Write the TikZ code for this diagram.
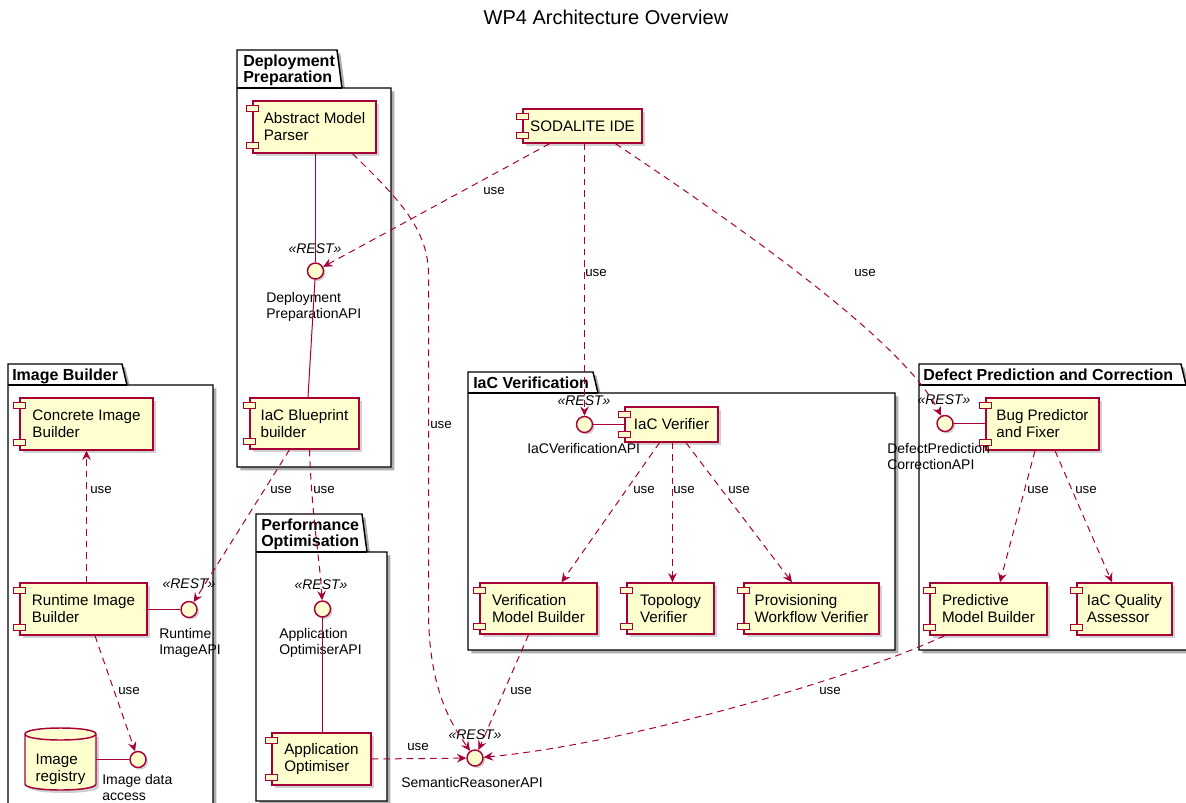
\documentclass[tikz,border=0pt]{standalone}
\usepackage{fontspec}
\setmainfont{Liberation Sans}
\usetikzlibrary{arrows.meta,calc,shadows}
\definecolor{umlred}{HTML}{A80036}
\definecolor{umlfill}{HTML}{FEFECE}

% package outline: left, tab top, tab right, body top, right, bottom
\newcommand\pkgframe[6]{%
  \draw[pkg] (#1,#2) -- (#3,#2) -- ({#3+5},#4) -- (#5,#4) -- (#5,#6) -- (#1,#6) -- cycle;
  \draw[pkgedge] (#1,#4) -- ({#3+5},#4);
}

\tikzset{
  txt/.style={font=\fontsize{10.5}{12}\selectfont, text=black},
  comp/.style 2 args={font=\fontsize{11.4}{12.8}\selectfont, text=black,
    draw=umlred, fill=umlfill, line width=1.1pt,
    minimum width=#1*0.75pt, minimum height=#2*0.75pt, inner sep=0pt, align=left,
    drop shadow={shadow xshift=2pt, shadow yshift=-2pt, opacity=0.3, fill=black!60}},
  compbar/.style={draw=umlred, fill=umlfill, line width=1.1pt},
  iface/.style={circle, draw=umlred, fill=umlfill, line width=1.1pt,
    minimum size=12pt, inner sep=0pt,
    drop shadow={shadow xshift=1.5pt, shadow yshift=-1.5pt, opacity=0.3, fill=black!60}},
  stereo/.style={font=\fontsize{10.5}{12}\selectfont\itshape, inner sep=0pt},
  ifname/.style={txt, align=left, inner sep=0pt, anchor=north west},
  pkg/.style={draw=black, line width=1.1pt, fill=white,
    drop shadow={shadow xshift=2.5pt, shadow yshift=-2.5pt, opacity=0.45, fill=black!70}},
  pkgedge/.style={draw=black, line width=1.1pt},
  pkgname/.style={font=\fontsize{12}{11.4}\selectfont\bfseries, align=left,
    inner sep=0pt, anchor=north west},
  wire/.style={draw=umlred, line width=0.75pt},
  use/.style={draw=umlred, line width=0.75pt, dash pattern=on 5pt off 3.75pt,
    -{Stealth[length=7pt,width=6.5pt,inset=2.5pt]}},
  uselbl/.style={font=\fontsize{10}{11}\selectfont, inner sep=0pt},
}

\begin{document}
\begin{tikzpicture}[x=0.75pt, y=-0.75pt]
\useasboundingbox (0,0) rectangle (1186,803);
\fill[white] (0,0) rectangle (1186,803);

% title
\node[font=\fontsize{15}{18}\selectfont] (title) at (606,17) {WP4 Architecture Overview};

% packages
\pkgframe{237}{50}{337}{88}{391}{467}
\node[pkgname] (pdp) at (243,55) {Deployment\\Preparation};
\pkgframe{8}{364}{122}{385}{213}{830}
\node[pkgname] (pib) at (12,369) {Image Builder};
\pkgframe{256}{514}{362}{552}{387}{801}
\node[pkgname] (ppo) at (261,519) {Performance\\Optimisation};
\pkgframe{468}{372}{593}{393}{895}{650}
\node[pkgname] (piv) at (473,377) {IaC Verification};
\pkgframe{919}{364}{1181}{385}{1200}{650}
\node[pkgname] (pdc) at (923,369) {Defect Prediction and Correction};

% components
\node[comp={119}{34}] (ide) at (582.5,126) {SODALITE IDE};
\node[comp={123}{52}] (amp) at (314.5,127) {Abstract Model\\Parser};
\node[comp={109}{51}] (ibb) at (304.5,423.5) {IaC Blueprint\\builder};
\node[comp={133}{52}] (cib) at (86.5,424) {Concrete Image\\Builder};
\node[comp={127}{52}] (rib) at (83.5,609) {Runtime Image\\Builder};
\node[comp={99}{52}] (ao) at (321.5,759) {Application\\Optimiser};
\node[comp={93}{35}] (iv) at (671.5,424.5) {IaC Verifier};
\node[comp={117}{51}] (vmb) at (538.5,608.5) {Verification\\Model Builder};
\node[comp={87}{51}] (tv) at (670.5,608.5) {Topology\\Verifier};
\node[comp={135}{51}] (pwv) at (811.5,608.5) {Provisioning\\Workflow Verifier};
\node[comp={113}{52}] (bpf) at (1042.5,424) {Bug Predictor\\and Fixer};
\node[comp={117}{52}] (pmb) at (988.5,609) {Predictive\\Model Builder};
\node[comp={95}{52}] (iqa) at (1124.5,609) {IaC Quality\\Assessor};

\foreach \n in {ide,amp,ibb,cib,rib,ao,iv,vmb,tv,pwv,bpf,pmb,iqa}{
  \draw[compbar] ($(\n.north west)+(-6,5)$) rectangle ++(12,6);
  \draw[compbar] ($(\n.south west)+(-6,-11)$) rectangle ++(12,6);
}

% database
\fill[black!60, opacity=0.3] (28,737) -- (28,787) .. controls (28,795) and (99,795) .. (99,787) -- (99,737) -- cycle;
\filldraw[draw=umlred, fill=umlfill, line width=1.1pt]
  (25,734) -- (25,784) .. controls (25,792) and (96,792) .. (96,784) -- (96,734)
  .. controls (96,726) and (25,726) .. (25,734) -- cycle;
\draw[draw=umlred, line width=1.1pt] (25,734) .. controls (25,742) and (96,742) .. (96,734);
\node[font=\fontsize{11.4}{12.8}\selectfont, align=left, minimum width=53.25pt,
  minimum height=33pt, inner sep=0pt] (reg) at (60.5,769) {Image\\registry};

% interfaces
\node[iface] (dpapi) at (315.5,271) {};
\node[iface] (rtapi) at (189,609.5) {};
\node[iface] (ida) at (138,759.5) {};
\node[iface] (aoapi) at (322.5,609) {};
\node[iface] (sem) at (475,758) {};
\node[iface] (ivapi) at (584.5,424.5) {};
\node[iface] (dpcapi) at (945,423.5) {};

% stereotypes
\node[stereo] (s1) at (315,249) {«REST»};
\node[stereo] (s2) at (189,584) {«REST»};
\node[stereo] (s3) at (321,585) {«REST»};
\node[stereo] (s4) at (475,735) {«REST»};
\node[stereo] (s5) at (584,401) {«REST»};
\node[stereo] (s6) at (944,400) {«REST»};

% interface names
\node[ifname] (n1) at (266,292) {Deployment\\PreparationAPI};
\node[ifname] (n2) at (159,628) {Runtime\\ImageAPI};
\node[ifname] (n3) at (279,628) {Application\\OptimiserAPI};
\node[ifname] (n4) at (401,777) {SemanticReasonerAPI};
\node[ifname] (n5) at (527,443) {IaCVerificationAPI};
\node[ifname] (n6) at (887,443) {DefectPrediction\\CorrectionAPI};
\node[ifname] (n7) at (102,774) {Image data\\access};

% provided interfaces
\draw[wire] (amp.south -| dpapi) -- (dpapi);
\draw[wire] (dpapi) -- ($(ibb.north)+(3.5,0)$);
\draw[wire] (rib.east |- rtapi) -- (rtapi);
\draw[wire] (reg.east |- ida) -- (ida);
\draw[wire] (aoapi) -- (ao.north -| aoapi);
\draw[wire] (ivapi) -- (iv.west |- ivapi);
\draw[wire] (dpcapi) -- (bpf.west |- dpcapi);

% dependencies
\draw[use] ($(ide.south)+(-33,0)$) -- (dpapi);
\draw[use] (ide.south -| ivapi) -- (ivapi);
\draw[use] ($(ide.south)+(33,0)$) .. controls (760,240) and (905,345) .. (dpcapi);
\draw[use] ($(amp.south)+(38,0)$) .. controls (400,200) and (428.5,230) .. (428.5,275)
  -- (428.5,610) .. controls (428.5,690) and (452,725) .. (sem);
\draw[use] ($(vmb.south)+(-10,0)$) -- (sem);
\draw[use] ($(pmb.south)+(-44,0)$) .. controls (850,680) and (620,745) .. (sem);
\draw[use] (ao.east) -- (sem);
\draw[use] ($(ibb.south)+(-15,0)$) -- (rtapi);
\draw[use] ($(ibb.south)+(5,0)$) .. controls (312,520) and (320,560) .. (aoapi);
\draw[use] (rib.north -| cib.south) -- (cib.south);
\draw[use] ($(rib.south)+(11.5,0)$) -- (ida);
\draw[use] ($(iv.south)+(-12,0)$) -- ($(vmb.north)+(23,0)$);
\draw[use] ($(iv.south)+(1,0)$) -- ($(tv.north)+(2,0)$);
\draw[use] ($(iv.south)+(14.5,0)$) -- ($(pwv.north)+(-19.5,0)$);
\draw[use] ($(bpf.south)+(-7.5,0)$) -- ($(pmb.north)+(11.5,0)$);
\draw[use] ($(bpf.south)+(12.5,0)$) -- ($(iqa.north)+(-12.5,0)$);

% dependency labels
\node[uselbl] (u1) at (494,191) {use};
\node[uselbl] (u2) at (596,273) {use};
\node[uselbl] (u3) at (865,273) {use};
\node[uselbl] (u4) at (441,425) {use};
\node[uselbl] (u5) at (521,691) {use};
\node[uselbl] (u6) at (830,691) {use};
\node[uselbl] (u7) at (418,747) {use};
\node[uselbl] (u8) at (281,490) {use};
\node[uselbl] (u9) at (324,490) {use};
\node[uselbl] (u10) at (101,490) {use};
\node[uselbl] (u11) at (129,691) {use};
\node[uselbl] (u12) at (644,490) {use};
\node[uselbl] (u13) at (684,490) {use};
\node[uselbl] (u14) at (739,490) {use};
\node[uselbl] (u15) at (1038,490) {use};
\node[uselbl] (u16) at (1086,490) {use};
\end{tikzpicture}
\end{document}
